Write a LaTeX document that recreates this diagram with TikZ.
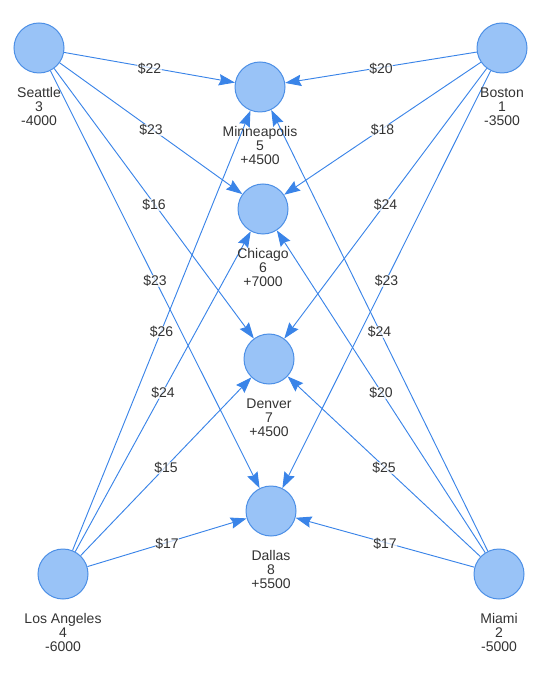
\documentclass[tikz,border=0pt]{standalone}
\usepackage{fontspec}
\setmainfont{Liberation Sans}
\usetikzlibrary{arrows.meta}
\definecolor{nodefill}{HTML}{99C3F7}
\definecolor{nodeline}{HTML}{4C8FE6}
\definecolor{edgecol}{HTML}{3A84E8}
\definecolor{txt}{HTML}{333333}
\begin{document}
\begin{tikzpicture}[x=0.75pt,y=-0.75pt,
  city/.style={circle,minimum size=37.5pt,inner sep=0pt,fill=nodefill,draw=nodeline,line width=0.75pt},
  citylabel/.style={anchor=north,align=center,inner sep=0pt,text=txt,font=\fontsize{10.5pt}{10.4pt}\selectfont},
  flow/.style={draw=edgecol,line width=0.7pt,-{Stealth[length=12pt,width=8.5pt,inset=1.5pt]}},
  cost/.style={midway,yshift=-1.2pt,fill=white,fill opacity=0.7,text opacity=1,inner sep=0.3pt,text=txt,font=\fontsize{10.5pt}{12pt}\selectfont}]
\useasboundingbox (0,0) rectangle (542,680);
% nodes
\node[city] (sea) at (39,48) {};
\node[city] (bos) at (502,48) {};
\node[city] (min) at (260,87) {};
\node[city] (chi) at (263,209) {};
\node[city] (den) at (269,359) {};
\node[city] (dal) at (271,511) {};
\node[city] (la)  at (63,574) {};
\node[city] (mia) at (499,574) {};
% edges
\path[flow] (sea) -- (min) node[cost] {\$22};
\path[flow] (sea) -- (chi) node[cost] {\$23};
\path[flow] (sea) -- (den) node[cost] {\$16};
\path[flow] (sea) -- (dal) node[cost] {\$23};
\path[flow] (la) -- (min) node[cost] {\$26};
\path[flow] (la) -- (chi) node[cost] {\$24};
\path[flow] (la) -- (den) node[cost] {\$15};
\path[flow] (la) -- (dal) node[cost] {\$17};
\path[flow] (bos) -- (min) node[cost] {\$20};
\path[flow] (bos) -- (chi) node[cost] {\$18};
\path[flow] (bos) -- (den) node[cost] {\$24};
\path[flow] (bos) -- (dal) node[cost] {\$23};
\path[flow] (mia) -- (min) node[cost] {\$24};
\path[flow] (mia) -- (chi) node[cost] {\$20};
\path[flow] (mia) -- (den) node[cost] {\$25};
\path[flow] (mia) -- (dal) node[cost] {\$17};
% labels
\node[citylabel] (seal) at (39,87.5) {Seattle\\3\\-4000};
\node[citylabel] (bosl) at (502,87.5) {Boston\\1\\-3500};
\node[citylabel] (minl) at (260,126.5) {Minneapolis\\5\\+4500};
\node[citylabel] (chil) at (263,248.5) {Chicago\\6\\+7000};
\node[citylabel] (denl) at (269,398.5) {Denver\\7\\+4500};
\node[citylabel] (dall) at (271,550.5) {Dallas\\8\\+5500};
\node[citylabel] (lal) at (63,613.5) {Los Angeles\\4\\-6000};
\node[citylabel] (mial) at (499,613.5) {Miami\\2\\-5000};
\end{tikzpicture}
\end{document}
